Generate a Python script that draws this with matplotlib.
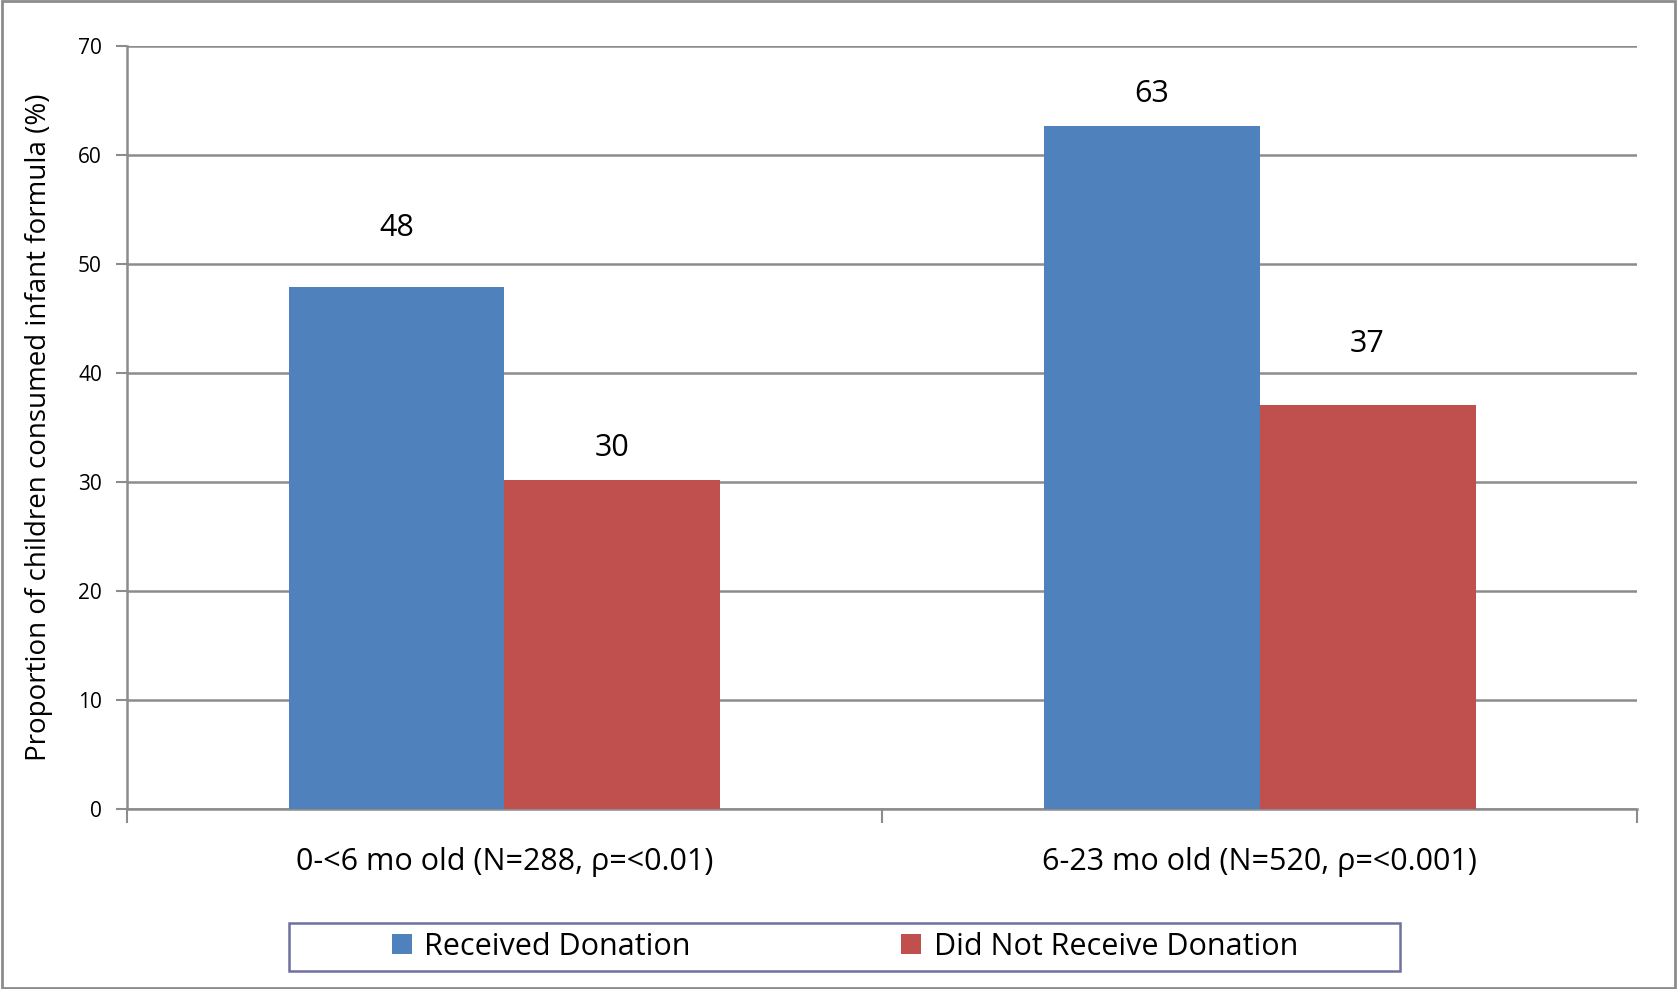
import matplotlib.pyplot as plt
from matplotlib.patches import Rectangle

plt.rcParams['font.family'] = ['Open Sans', 'DejaVu Sans']

categories = ["0-<6 mo old (N=288, \u03c1=<0.01)", "6-23 mo old (N=520, \u03c1=<0.001)"]
series_names = ["Received Donation", "Did Not Receive Donation"]
received = [47.9, 62.7]
not_received = [30.2, 37.1]
received_labels = ["48", "63"]
not_received_labels = ["30", "37"]
y_ticks = [0, 10, 20, 30, 40, 50, 60, 70]

colors = ["#4F81BD", "#C0504D"]
grid_color = "#8C8C8C"
# label offsets above bar tops (data units)
received_offsets = [5.4, 2.9]
not_received_offsets = [2.9, 5.6]


def main():
    fig = plt.figure(figsize=(16.77, 9.89), dpi=100)
    ax = fig.add_axes([0.0757, 0.182, 0.9005, 0.7715])

    x = list(range(len(categories)))
    w = 0.286
    xr = [i - w / 2 for i in x]
    xn = [i + w / 2 for i in x]
    b1 = ax.bar(xr, received, width=w, color=colors[0], label=series_names[0], zorder=3)
    b2 = ax.bar(xn, not_received, width=w, color=colors[1], label=series_names[1], zorder=3)

    for xi, v, lab, off in zip(xr, received, received_labels, received_offsets):
        ax.text(xi, v + off, lab, ha="center", va="center", fontsize=22)
    for xi, v, lab, off in zip(xn, not_received, not_received_labels, not_received_offsets):
        ax.text(xi, v + off, lab, ha="center", va="center", fontsize=22)

    ax.set_xlim(-0.5, len(categories) - 0.5)
    ax.set_ylim(0, 70)
    ax.set_yticks(y_ticks)
    ax.tick_params(axis="y", labelsize=15, length=8, width=1.5, color=grid_color, pad=10)
    ax.yaxis.grid(True, color=grid_color, linewidth=1.8, zorder=0)
    ax.set_axisbelow(True)

    # categories labelled at centre, tick marks at boundaries
    ax.set_xticks(x)
    ax.set_xticklabels(categories, fontsize=22)
    ax.tick_params(axis="x", length=0, pad=27)
    ax.set_xticks([i - 0.5 for i in range(len(categories) + 1)], minor=True)
    ax.tick_params(axis="x", which="minor", length=10, width=1.5, color=grid_color)

    for s in ["top", "right"]:
        ax.spines[s].set_visible(False)
    for s in ["left", "bottom"]:
        ax.spines[s].set_color(grid_color)
        ax.spines[s].set_linewidth(1.8)

    ax.set_ylabel("Proportion of children consumed infant formula (%)", fontsize=20, labelpad=18)

    # legend frame
    fig.patches.append(Rectangle((289 / 1677, 1 - 971 / 989), 1111 / 1677, 48 / 989,
                                 transform=fig.transFigure, fill=False,
                                 edgecolor="#7070A0", linewidth=1.8))
    fig.legend(handles=[b1, b2], loc="center", bbox_to_anchor=(845 / 1677, 1 - 947 / 989),
               ncol=2, frameon=False, fontsize=22, handlelength=0.65, handleheight=0.65,
               handletextpad=0.4, columnspacing=6.9)

    # outer chart border
    fig.patches.append(Rectangle((0.001, 0.001), 0.998, 0.998, transform=fig.transFigure,
                                 fill=False, edgecolor=grid_color, linewidth=2))

    fig.savefig("out.png", dpi=100)


if __name__ == "__main__":
    main()
